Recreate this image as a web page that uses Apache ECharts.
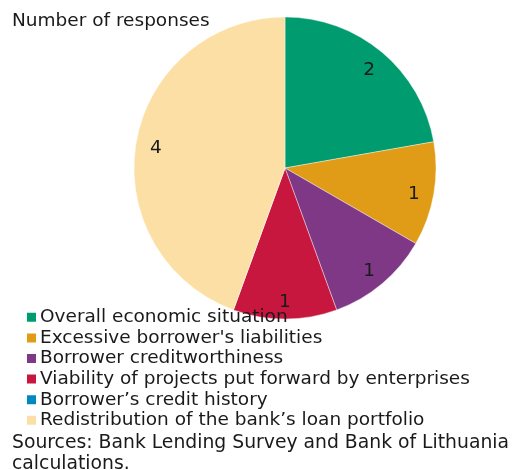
<!DOCTYPE html>
<html>
<head>
<meta charset="utf-8">
<script src="https://cdn.jsdelivr.net/npm/echarts@6/dist/echarts.min.js"></script>
<style>
  html, body { margin: 0; padding: 0; background: #fff; }
  #chart { width: 516px; height: 470px; }
</style>
</head>
<body>
<div id="chart"></div>
<script>
// Reasons given by banks (number of responses)
const categories = [
  'Overall economic situation',
  "Excessive borrower's liabilities",
  'Borrower creditworthiness',
  'Viability of projects put forward by enterprises',
  'Borrower\u2019s credit history',
  'Redistribution of the bank\u2019s loan portfolio'
];
const responses = [2, 1, 1, 1, 0, 4];
const colors = ['#009B6F', '#E09C17', '#7E3886', '#C8173F', '#0089C1', '#FCDFA4'];

const FONT = "'DejaVu Sans', Verdana, sans-serif";
const FS = 18.5;
const center = [285, 168];
const outer = 151;

const pieData = categories.map((name, i) => ({
  name,
  value: responses[i],
  itemStyle: { color: colors[i] }
}));

const chart = echarts.init(document.getElementById('chart'), null, { renderer: 'canvas' });
chart.setOption({
  animation: false,
  color: colors,
  title: [
    {
      text: 'Number of responses',
      left: 12, top: 12, padding: 0,
      textStyle: { fontFamily: FONT, fontSize: FS, fontWeight: 'normal', color: '#1a1a1a' }
    },
    {
      text: 'Sources: Bank Lending Survey and Bank of Lithuania\ncalculations.',
      left: 12, top: 433, padding: 0,
      textStyle: { fontFamily: FONT, fontSize: 18.8, fontWeight: 'normal', color: '#1a1a1a', lineHeight: 21 }
    }
  ],
  legend: {
    orient: 'vertical',
    left: 25, top: 307, padding: 0,
    itemWidth: 11, itemHeight: 11, itemGap: 0,
    icon: 'rect',
    selectedMode: false,
    data: categories,
    textStyle: { fontFamily: FONT, fontSize: FS, color: '#1a1a1a', lineHeight: 20.6, padding: [0, 0, 0, -2] }
  },
  series: [
    {
      type: 'pie',
      center, radius: [0, outer],
      startAngle: 90, clockwise: true,
      silent: true,
      label: { show: false }, labelLine: { show: false },
      itemStyle: { borderColor: '#ffffff', borderWidth: 0.4 },
      data: pieData
    },
    {
      // label ring: places the value labels near the rim
      type: 'pie',
      center, radius: [105, outer],
      startAngle: 90, clockwise: true,
      silent: true,
      itemStyle: { color: 'rgba(0,0,0,0)' },
      label: {
        show: true, position: 'inside', offset: [0, 3],
        fontFamily: FONT, fontSize: FS, color: '#1a1a1a',
        formatter: p => (p.value ? String(p.value) : '')
      },
      labelLine: { show: false },
      data: categories.map((name, i) => ({ name, value: responses[i] }))
    }
  ]
});
</script>
</body>
</html>
